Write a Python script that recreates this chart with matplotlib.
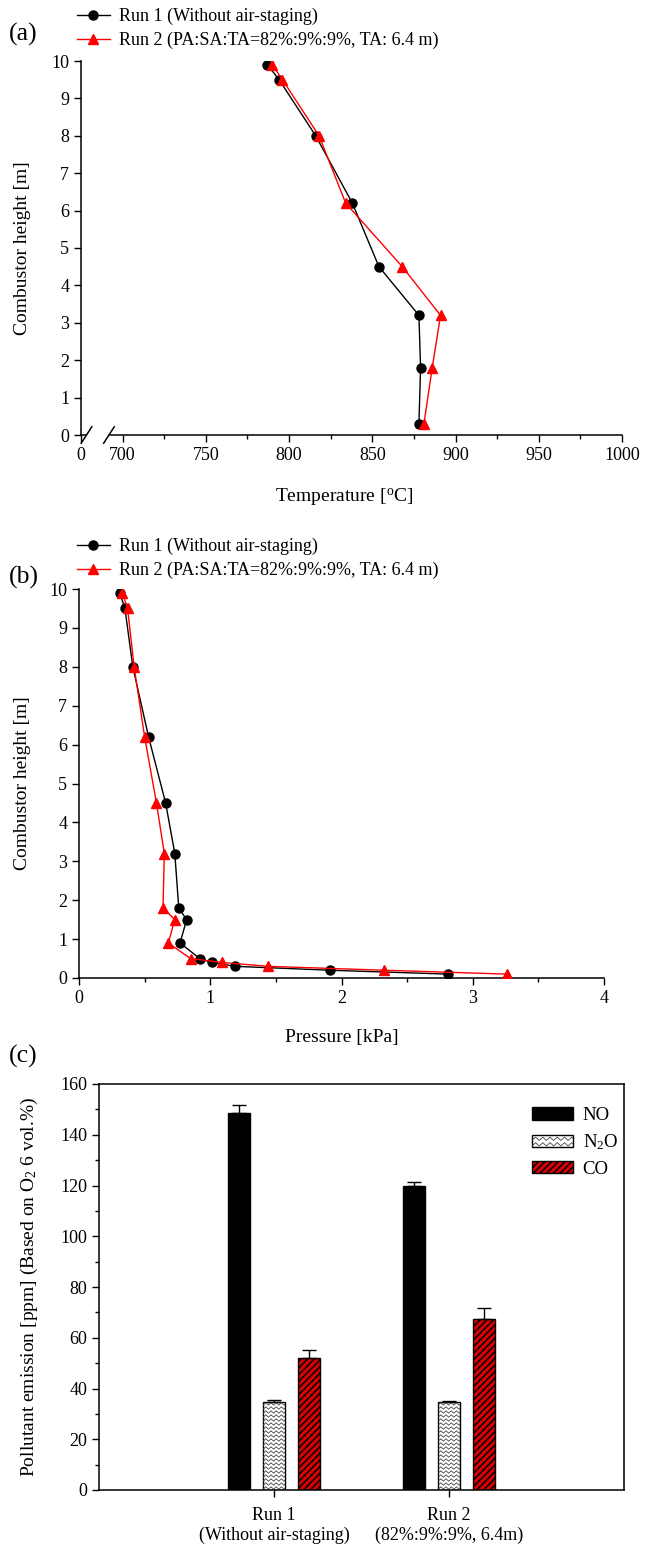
import numpy as np
import matplotlib
matplotlib.use('Agg')
import matplotlib.pyplot as plt
from matplotlib.lines import Line2D
from matplotlib.patches import Rectangle
from matplotlib.legend_handler import HandlerBase

plt.rcParams['font.family'] = ['Liberation Serif', 'DejaVu Serif']
plt.rcParams['mathtext.fontset'] = 'custom'
plt.rcParams['mathtext.rm'] = 'Liberation Serif'
plt.rcParams['mathtext.it'] = 'Liberation Serif:italic'
plt.rcParams['hatch.linewidth'] = 1.1

# ---- (a) temperature profile ----
height_a = [9.9, 9.5, 8.0, 6.2, 4.5, 3.2, 1.8, 0.3]
temp_run1 = [787, 794, 816, 838, 854, 878, 879, 878]
temp_run2 = [790, 796, 818, 834, 868, 891, 886, 881]

# ---- (b) pressure profile ----
height_b = [9.9, 9.5, 8.0, 6.2, 4.5, 3.2, 1.8, 1.5, 0.9, 0.5, 0.4, 0.3, 0.2, 0.1]
pres_run1 = [0.31, 0.35, 0.41, 0.53, 0.66, 0.73, 0.76, 0.82, 0.77, 0.92, 1.01, 1.19, 1.91, 2.81]
pres_run2 = [0.33, 0.37, 0.42, 0.50, 0.59, 0.65, 0.64, 0.73, 0.68, 0.85, 1.09, 1.44, 2.32, 3.26]

# ---- (c) emissions ----
runs = ['Run 1\n(Without air-staging)', 'Run 2\n(82%:9%:9%, 6.4m)']
no_vals = [148.7, 119.8]
no_err = [3.0, 1.7]
n2o_vals = [34.8, 34.5]
n2o_err = [0.5, 0.7]
co_vals = [52.0, 67.4]
co_err = [3.2, 4.2]

label1 = 'Run 1 (Without air-staging)'
label2 = 'Run 2 (PA:SA:TA=82%:9%:9%, TA: 6.4 m)'
RED = '#ff0000'
CO_RED = '#d80000'
TICK_FS = 13
LEG_FS = 13

W, H = 656, 1550
fig = plt.figure(figsize=(W / 100, H / 100), dpi=100)


def frac(left, top, right, bottom):
    return [left / W, 1 - bottom / H, (right - left) / W, (bottom - top) / H]


def style_axis(ax, box=False):
    for s in ['top', 'right']:
        ax.spines[s].set_visible(box)
    for s in ax.spines.values():
        s.set_linewidth(1.1)
    ax.tick_params(which='major', direction='out', length=5, width=1, labelsize=TICK_FS)
    ax.tick_params(which='minor', direction='out', length=3, width=1)


def zigzag_lines(x0, x1, y0, y1, sx, sy, dy_row, half, amp):
    # zigzag texture lines (pattern only), spacing given in pixels
    out = []
    nx = int((x1 - x0) / (half * sx)) + 2
    xs = x0 + np.arange(nx) * half * sx
    offs = np.where(np.arange(nx) % 2 == 0, -amp, amp) * sy
    y = y0 + dy_row * sy * 0.5
    while y < y1 + dy_row * sy:
        out.append((xs, y + offs))
        y += dy_row * sy
    return out


class ZigzagHandler(HandlerBase):
    def create_artists(self, legend, orig_handle, xdescent, ydescent,
                       width, height, fontsize, trans):
        rect = Rectangle((-xdescent, -ydescent), width, height, facecolor='white',
                         edgecolor='black', lw=1.0, transform=trans)
        arts = [rect]
        for xs, ys in zigzag_lines(-xdescent, -xdescent + width, -ydescent,
                                   -ydescent + height, 1, 1, 4.0, 2.6, 1.2):
            ln = Line2D(xs, ys, color='#444444', lw=0.6, transform=trans)
            ln.set_clip_path(rect)
            arts.append(ln)
        return arts


def run_legend(top_px):
    h1 = Line2D([], [], color='black', lw=1.0, marker='o', ms=6.5)
    h2 = Line2D([], [], color=RED, lw=1.0, marker='^', ms=7)
    fig.legend([h1, h2], [label1, label2], loc='upper left',
               bbox_to_anchor=(77 / W, 1 - top_px / H), frameon=False, fontsize=LEG_FS,
               borderpad=0, borderaxespad=0, handlelength=1.8, handletextpad=0.55,
               labelspacing=0.35)


# ================= (a) =================
ax_a = fig.add_axes(frac(81, 61, 622, 435))
style_axis(ax_a)
ax_a.plot(temp_run1, height_a, color='black', lw=1.0, marker='o', ms=6.5, zorder=3)
ax_a.plot(temp_run2, height_a, color=RED, lw=1.0, marker='^', ms=7, zorder=4)
ax_a.set_xlim(675, 1000)
ax_a.set_ylim(0, 10)
ax_a.set_xticks([675] + list(range(700, 1001, 50)))
ax_a.set_xticklabels(['0'] + [str(v) for v in range(700, 1001, 50)])
ax_a.set_xticks(list(range(725, 1000, 50)), minor=True)
ax_a.set_yticks(range(0, 11))
# axis break on the x axis
ax_a.spines['bottom'].set_bounds(691.8, 1000)
xt = ax_a.get_xaxis_transform()
ax_a.plot([675, 678.3], [0, 0], color='black', lw=1.1, transform=xt, clip_on=False)
for xb in [678.3, 691.8]:
    ax_a.plot([xb - 3.2, xb + 3.2], [-0.022, 0.022], color='black', lw=1.1,
              transform=xt, clip_on=False)
ax_a.set_xlabel('Temperature [$^{\\mathrm{o}}$C]', fontsize=14)
ax_a.xaxis.set_label_coords((344 - 81) / 541, -0.138)
ax_a.set_ylabel('Combustor height [m]', fontsize=14)
ax_a.yaxis.set_label_coords(-0.092, 0.5)
run_legend(8)
fig.text(9 / W, 1 - 34 / H, '(a)', fontsize=18.5, va='center')

# ================= (b) =================
ax_b = fig.add_axes(frac(79, 589, 604, 978))
style_axis(ax_b)
ax_b.plot(pres_run1, height_b, color='black', lw=1.0, marker='o', ms=6.5, zorder=3)
ax_b.plot(pres_run2, height_b, color=RED, lw=1.0, marker='^', ms=7, zorder=4)
ax_b.set_xlim(0, 4)
ax_b.set_ylim(0, 10)
ax_b.set_xticks(range(0, 5))
ax_b.set_xticks(np.arange(0.5, 4, 1.0), minor=True)
ax_b.set_yticks(range(0, 11))
ax_b.set_xlabel('Pressure [kPa]', fontsize=14)
ax_b.xaxis.set_label_coords(0.501, -0.13)
ax_b.set_ylabel('Combustor height [m]', fontsize=14)
ax_b.yaxis.set_label_coords(-0.091, 0.5)
run_legend(538)
fig.text(9 / W, 1 - 577 / H, '(b)', fontsize=18.5, va='center')

# ================= (c) =================
ax_c = fig.add_axes(frac(99, 1084, 624, 1490))
style_axis(ax_c, box=True)
ax_c.tick_params(axis='y', which='both', right=False)
ax_c.tick_params(axis='x', top=False, pad=7)
pos = np.arange(1, len(runs) + 1)
bw = 0.123
off = 0.2
zero = np.zeros(len(runs))
ekw = dict(ecolor='black', elinewidth=1.0, capsize=5, capthick=1.0)
ax_c.bar(pos - off, no_vals, bw, color='black', edgecolor='black', lw=1.0,
         yerr=[zero, no_err], error_kw=ekw, label='NO', zorder=2)
n2o_bars = ax_c.bar(pos, n2o_vals, bw, color='white', edgecolor='black', lw=1.0,
                    yerr=[zero, n2o_err], error_kw=ekw, label='N$_2$O', zorder=2)
ax_c.bar(pos + off, co_vals, bw, color=CO_RED, edgecolor='black', lw=1.0,
         hatch='/////', yerr=[zero, co_err], error_kw=ekw, label='CO', zorder=2)
ax_c.set_xlim(0, 3)
ax_c.set_ylim(0, 160)
ax_c.set_xticks(pos)
ax_c.set_xticklabels(runs, fontsize=TICK_FS, linespacing=1.2)
ax_c.set_yticks(range(0, 161, 20))
ax_c.set_yticks(range(10, 160, 20), minor=True)

# zigzag texture inside the N2O bars
sx = 3.0 / 525
sy = 160.0 / 406
for b in n2o_bars:
    x0, y0 = b.get_x(), b.get_y()
    for xs, ys in zigzag_lines(x0, x0 + b.get_width(), y0, y0 + b.get_height(),
                               sx, sy, 4.0, 2.6, 1.2):
        ln = Line2D(xs, ys, color='#444444', lw=0.6, zorder=2.5)
        ax_c.add_line(ln)
        ln.set_clip_path(b)

hnd, lab = ax_c.get_legend_handles_labels()
ax_c.legend(hnd, lab, loc='upper left', bbox_to_anchor=((532 - 99) / 525, (1490 - 1107) / 406),
            frameon=False, fontsize=13.5, borderpad=0, borderaxespad=0,
            handlelength=2.2, handleheight=0.65, handletextpad=0.5, labelspacing=0.45,
            handler_map={n2o_bars: ZigzagHandler()})
ax_c.set_ylabel('Pollutant emission [ppm] (Based on O$_2$ 6 vol.%)', fontsize=14)
ax_c.yaxis.set_label_coords(-0.112, 0.5)
fig.text(9 / W, 1 - 1056 / H, '(c)', fontsize=18.5, va='center')

fig.savefig('out.png', dpi=100)
